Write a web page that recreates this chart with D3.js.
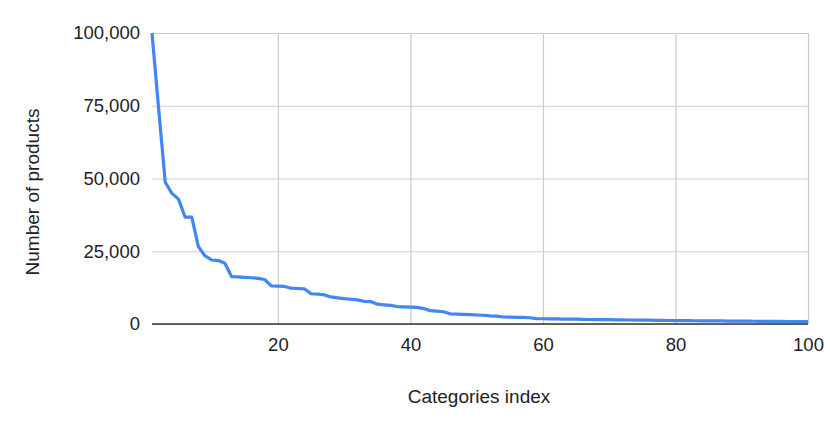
<!DOCTYPE html>
<html>
<head>
<meta charset="utf-8">
<script src="https://cdn.jsdelivr.net/npm/d3@7"></script>
<style>
  body { margin: 0; background: #fff; }
  text { font-family: "Liberation Sans", Arial, sans-serif; fill: #222; }
</style>
</head>
<body>
<div id="chart"></div>
<script>
// chart data
const categoryIndex = d3.range(1, 101);
const productCounts = [
    100000, 74000, 48700, 44900, 42900, 36700, 36700, 26600, 23400, 22000,
    21800, 20900, 16300, 16200, 16000, 15900, 15700, 15300, 13100, 13000,
    12900, 12300, 12200, 12100, 10400, 10300, 10000, 9300, 9000, 8700,
    8500, 8300, 7800, 7700, 6800, 6600, 6400, 6000, 5900, 5800,
    5700, 5300, 4600, 4400, 4200, 3500, 3400, 3300, 3200, 3100,
    3000, 2800, 2700, 2400, 2350, 2300, 2250, 2150, 1850, 1800,
    1780, 1740, 1700, 1680, 1650, 1600, 1550, 1520, 1500, 1470,
    1440, 1410, 1380, 1350, 1320, 1300, 1270, 1240, 1210, 1180,
    1160, 1140, 1120, 1100, 1080, 1060, 1040, 1020, 1000, 980,
    960, 940, 920, 900, 880, 870, 860, 850, 840, 830
];
const xTicks = [20, 40, 60, 80, 100];
const yTicks = [0, 25000, 50000, 75000, 100000];

// set dimensions
const width = 830,
    height = 428,
    margin = {
        top: 33,
        right: 22,
        bottom: 104,
        left: 152
    };

const svg = d3.select("#chart")
    .append("svg")
    .attr("width", width)
    .attr("height", height);

// scales
const xScale = d3.scaleLinear()
    .domain([1, 100])
    .range([margin.left, width - margin.right]);

const yScale = d3.scaleLinear()
    .domain([0, 100000])
    .range([height - margin.bottom, margin.top]);

// gridlines
const xGrid = d3.axisBottom(xScale)
    .tickValues(xTicks)
    .tickSize(-(height - margin.bottom - margin.top))
    .tickFormat("");

const yGrid = d3.axisLeft(yScale)
    .tickValues(yTicks)
    .tickSize(-(width - margin.right - margin.left))
    .tickFormat("");

svg.append("g")
    .attr("transform", "translate(0," + (height - margin.bottom) + ")")
    .call(xGrid)
    .call(g => g.select(".domain").remove())
    .call(g => g.selectAll("line").attr("stroke", "#ccc").attr("stroke-width", 1.2));

svg.append("g")
    .attr("transform", "translate(" + margin.left + ",0)")
    .call(yGrid)
    .call(g => g.select(".domain").remove())
    .call(g => g.selectAll("line").attr("stroke", "#ccc").attr("stroke-width", 1.2));

// axes with labels
const xAxis = d3.axisBottom(xScale)
    .tickValues(xTicks)
    .tickSize(0)
    .tickPadding(14)
    .tickFormat(d3.format("d"));

const yAxis = d3.axisLeft(yScale)
    .tickValues(yTicks)
    .tickSize(0)
    .tickPadding(12)
    .tickFormat(d3.format(","));

svg.append("g")
    .attr("transform", "translate(0," + (height - margin.bottom) + ")")
    .call(xAxis)
    .call(g => g.select(".domain").remove())
    .call(g => g.selectAll("text").style("font-size", "18.5px").attr("fill", "#1a1a1a"));

svg.append("g")
    .attr("transform", "translate(" + margin.left + ",0)")
    .call(yAxis)
    .call(g => g.select(".domain").remove())
    .call(g => g.selectAll("text").style("font-size", "18.5px").attr("fill", "#1a1a1a"));

// line
const line = d3.line()
    .x((d, i) => xScale(categoryIndex[i]))
    .y(d => yScale(d));

svg.append("path")
    .datum(productCounts)
    .attr("fill", "none")
    .attr("stroke", "#4285f4")
    .attr("stroke-width", 3.2)
    .attr("stroke-linejoin", "round")
    .attr("d", line);

// baseline
svg.append("line")
    .attr("x1", margin.left)
    .attr("x2", width - margin.right)
    .attr("y1", yScale(0))
    .attr("y2", yScale(0))
    .attr("stroke", "#333")
    .attr("stroke-width", 1.5);

// axis titles
svg.append("text")
    .attr("x", (margin.left + width - margin.right) / 2 - 1)
    .attr("y", 403)
    .attr("text-anchor", "middle")
    .style("font-size", "19px")
    .attr("fill", "#1a1a1a")
    .text("Categories index");

svg.append("text")
    .attr("transform", "translate(39," + 192 + ") rotate(-90)")
    .attr("text-anchor", "middle")
    .style("font-size", "19px")
    .attr("fill", "#1a1a1a")
    .text("Number of products");
</script>
</body>
</html>
